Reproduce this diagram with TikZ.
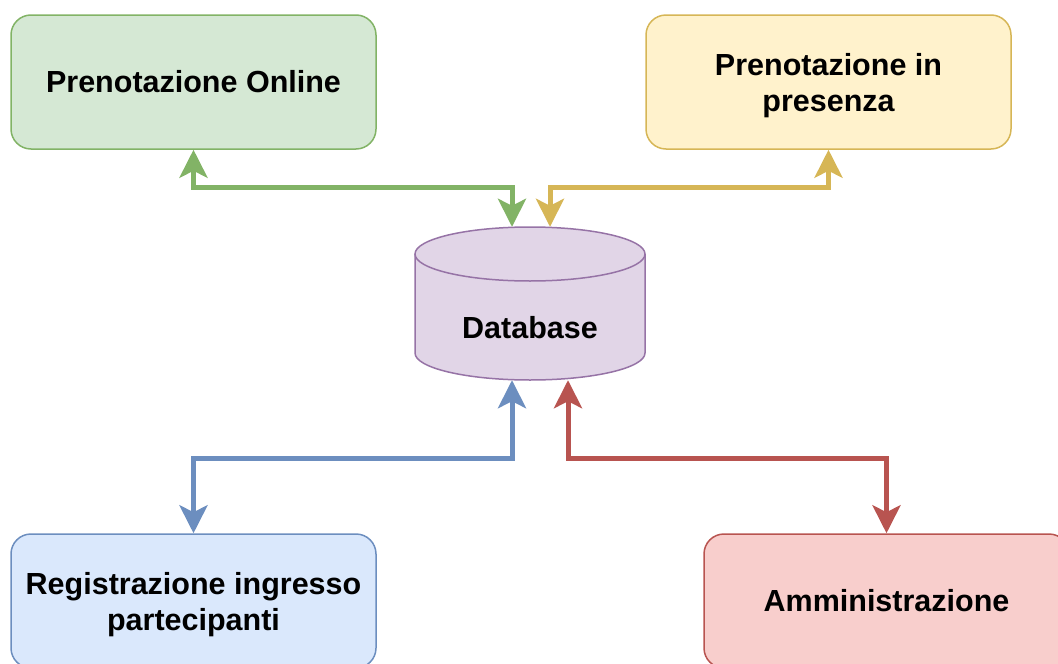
\documentclass[tikz,border=0pt]{standalone}
\usepackage{fontspec}
\setmainfont{Liberation Sans}
\usetikzlibrary{arrows.meta}
\definecolor{gfill}{HTML}{D5E8D4}\definecolor{gline}{HTML}{82B366}
\definecolor{yfill}{HTML}{FFF2CC}\definecolor{yline}{HTML}{D6B656}
\definecolor{bfill}{HTML}{DAE8FC}\definecolor{bline}{HTML}{6C8EBF}
\definecolor{rfill}{HTML}{F8CECC}\definecolor{rline}{HTML}{B85450}
\definecolor{pfill}{HTML}{E1D5E7}\definecolor{pline}{HTML}{9673A6}
\newcommand{\twolines}[2]{\begin{tabular}{@{}c@{}}\rule{0pt}{33.5pt}#1\\#2\end{tabular}}
\tikzset{
  box/.style={rectangle, rounded corners=20pt, line width=1.5pt,
    minimum width=365pt, minimum height=134pt, inner sep=0pt, align=center,
    font=\fontsize{30.5}{36}\selectfont\bfseries},
  link/.style={line width=5pt, line join=miter,
    arrows={Stealth[length=28pt,width=28pt,inset=7pt]-Stealth[length=28pt,width=28pt,inset=7pt]}}
}
\begin{document}
\begin{tikzpicture}[x=1pt,y=-1pt]
\useasboundingbox (0,0) rectangle (1058,664);
\clip (0,0) rectangle (1058,664);
\node[box, fill=gfill, draw=gline] (green) at (193.5,82) {Prenotazione Online};
\node[box, fill=yfill, draw=yline] (yellow) at (828.5,82) {\twolines{Prenotazione in}{presenza}};
\node[box, fill=bfill, draw=bline] (blue) at (193.5,601) {\twolines{Registrazione ingresso}{partecipanti}};
\node[box, fill=rfill, draw=rline] (red) at (886.5,601) {Amministrazione};
% database cylinder
\fill[pfill] (415,254) -- (415,353) arc[start angle=180,end angle=360,x radius=115pt,y radius=27pt] -- (645,254) arc[start angle=0,end angle=180,x radius=115pt,y radius=27pt] -- cycle;
\draw[pline, line width=1.5pt] (415,254) -- (415,353) arc[start angle=180,end angle=360,x radius=115pt,y radius=27pt] -- (645,254);
\draw[pline, line width=1.5pt] (530,254) ellipse [x radius=115pt, y radius=27pt];
\node[minimum width=230pt, minimum height=153pt, inner sep=0pt] (db) at (530,303.5) {};
\node[font=\fontsize{30.5}{36}\selectfont\bfseries] (dblabel) at (530,328) {Database};
% connectors
\draw[link, gline] (green.south) -- ++(0,38) -| ([xshift=-18pt]db.north);
\draw[link, yline] (yellow.south) -- ++(0,38) -| ([xshift=20pt]db.north);
\draw[link, bline] ([xshift=-18pt]db.south) -- ++(0,78) -| (blue.north);
\draw[link, rline] ([xshift=38pt]db.south) -- ++(0,78) -| (red.north);
\end{tikzpicture}
\end{document}
